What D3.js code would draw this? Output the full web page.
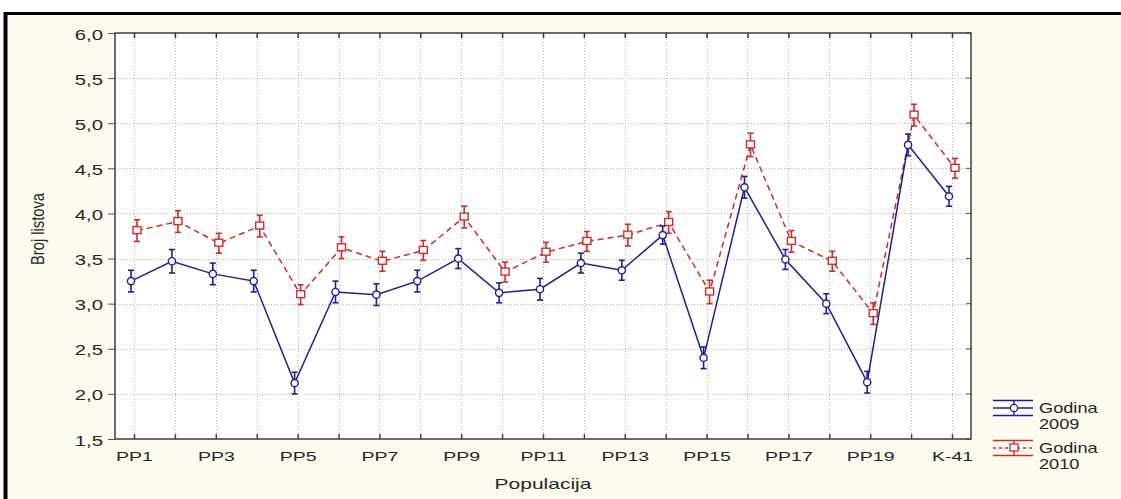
<!DOCTYPE html>
<html>
<head>
<meta charset="utf-8">
<script src="https://cdn.jsdelivr.net/npm/d3@7"></script>
<style>
  html, body { margin: 0; padding: 0; background: #ffffff; }
  svg { display: block; }
  text { font-family: "Liberation Sans", Arial, sans-serif; fill: #262626; }
</style>
</head>
<body>
<svg id="chart" width="1121" height="499"></svg>
<script>
// Populations on the x axis
const categories = ["PP1","PP2","PP3","PP4","PP5","PP6","PP7","PP8","PP9","PP10",
  "PP11","PP12","PP13","PP14","PP15","PP16","PP17","PP18","PP19","PP20","K-41"];
// Only every second population is labelled
const tickLabels = ["PP1","PP3","PP5","PP7","PP9","PP11","PP13","PP15","PP17","PP19","K-41"];
const yTicks = [1.5, 2.0, 2.5, 3.0, 3.5, 4.0, 4.5, 5.0, 5.5, 6.0];

// Mean number of leaves per population, year 2009
const mean2009 = [3.25, 3.47, 3.33, 3.25, 2.12, 3.13, 3.10, 3.25, 3.50, 3.12, 3.16,
  3.45, 3.37, 3.76, 2.40, 4.29, 3.49, 3.00, 2.13, 4.76, 4.19];
const err2009 = [0.12, 0.13, 0.12, 0.12, 0.12, 0.12, 0.12, 0.12, 0.11, 0.11, 0.12,
  0.11, 0.11, 0.10, 0.12, 0.12, 0.11, 0.11, 0.12, 0.12, 0.11];
// Mean number of leaves per population, year 2010
const mean2010 = [3.81, 3.91, 3.67, 3.86, 3.10, 3.62, 3.47, 3.59, 3.96, 3.35, 3.57,
  3.69, 3.76, 3.90, 3.13, 4.76, 3.69, 3.47, 2.89, 5.09, 4.50];
const err2010 = [0.12, 0.12, 0.11, 0.12, 0.11, 0.12, 0.11, 0.11, 0.12, 0.11, 0.11,
  0.11, 0.12, 0.12, 0.13, 0.13, 0.12, 0.11, 0.12, 0.12, 0.11];

const seriesNames = ["Godina", "Godina"];
const seriesYears = ["2009", "2010"];

const svg = d3.select("#chart");
const W = 1121, H = 499;
const plot = { left: 115, right: 971, top: 33, bottom: 439 };
const blue = "#1e1e96", red = "#cc2c2c";
const fmt = d3.formatLocale({ decimal: ",", thousands: ".", grouping: [3], currency: ["", ""] }).format(".1f");

// window background and framed panel
svg.append("rect").attr("width", W).attr("height", H).attr("fill", "#ffffff");
svg.append("rect").attr("x", 5).attr("y", 13).attr("width", W).attr("height", H)
  .attr("fill", "#fdfaf0");
svg.append("line").attr("x1", 5.5).attr("x2", 5.5).attr("y1", 12).attr("y2", H)
  .attr("stroke", "#000").attr("stroke-width", 4);
svg.append("line").attr("x1", 4).attr("x2", W).attr("y1", 13.5).attr("y2", 13.5)
  .attr("stroke", "#000").attr("stroke-width", 3);

const x = d3.scalePoint().domain(categories).range([plot.left, plot.right]).padding(0.465);
const y = d3.scaleLinear().domain([1.5, 6]).range([plot.bottom, plot.top]);

// plot area
svg.append("rect").attr("x", plot.left).attr("y", plot.top)
  .attr("width", plot.right - plot.left).attr("height", plot.bottom - plot.top)
  .attr("fill", "#ffffff");

// dotted grid
const grid = svg.append("g").attr("stroke", "#b4b4b4").attr("stroke-width", 1)
  .attr("stroke-dasharray", "1,2");
grid.selectAll("line.v").data(categories).join("line").attr("class", "v")
  .attr("x1", d => Math.round(x(d)) + 0.5).attr("x2", d => Math.round(x(d)) + 0.5)
  .attr("y1", plot.top).attr("y2", plot.bottom);
grid.selectAll("line.h").data(yTicks.slice(1, -1)).join("line").attr("class", "h")
  .attr("y1", d => Math.round(y(d)) + 0.5).attr("y2", d => Math.round(y(d)) + 0.5)
  .attr("x1", plot.left).attr("x2", plot.right);

// y axis (ticks outside, labels with decimal comma)
const yAxis = svg.append("g").attr("transform", `translate(${plot.left},0)`)
  .call(d3.axisLeft(y).tickValues(yTicks).tickFormat(fmt).tickSize(7).tickPadding(0));
yAxis.select(".domain").remove();
yAxis.selectAll(".tick line").attr("stroke", "#555");
yAxis.selectAll(".tick text")
  .attr("x", null).attr("dy", null)
  .attr("transform", "translate(-12,6) scale(1.45,1)")
  .attr("text-anchor", "end")
  .style("font-size", "14px").style("font-family", "'Liberation Sans', Arial, sans-serif")
  .attr("fill", "#2a2a2a");

// right side inner ticks
svg.append("g").selectAll("line").data(yTicks).join("line")
  .attr("x1", plot.right - 5).attr("x2", plot.right)
  .attr("y1", d => y(d)).attr("y2", d => y(d))
  .attr("stroke", "#555");

// x axis (ticks inside at bottom and top)
const xAxis = svg.append("g").attr("transform", `translate(0,${plot.bottom})`)
  .call(d3.axisBottom(x).tickSize(-5).tickPadding(0)
    .tickFormat(d => tickLabels.includes(d) ? d : ""));
xAxis.select(".domain").remove();
xAxis.selectAll(".tick line").attr("stroke", "#444").attr("stroke-width", 1.5);
xAxis.selectAll(".tick text")
  .attr("y", null).attr("dy", null)
  .attr("transform", "translate(0,22) scale(1.5,1)")
  .attr("text-anchor", "middle")
  .style("font-size", "13px").style("font-family", "'Liberation Sans', Arial, sans-serif")
  .attr("fill", "#2a2a2a");

const xTop = svg.append("g").attr("transform", `translate(0,${plot.top})`)
  .call(d3.axisTop(x).tickSize(-5).tickFormat(""));
xTop.select(".domain").remove();
xTop.selectAll(".tick line").attr("stroke", "#333").attr("stroke-width", 1.5);

// plot border
svg.append("rect").attr("x", plot.left).attr("y", plot.top)
  .attr("width", plot.right - plot.left).attr("height", plot.bottom - plot.top)
  .attr("fill", "none").attr("stroke", "#3c3c3c").attr("stroke-width", 1.5);

// series: line, error bars, markers
function drawSeries(means, errs, color, dash, offset, marker) {
  const g = svg.append("g");
  const pts = categories.map((c, i) => ({ cx: x(c) + offset, m: means[i], e: errs[i] }));
  g.append("path").datum(pts)
    .attr("d", d3.line().x(d => d.cx).y(d => y(d.m)))
    .attr("fill", "none").attr("stroke", color).attr("stroke-width", 1.5)
    .attr("stroke-dasharray", dash);
  const eb = g.selectAll("g.eb").data(pts).join("g").attr("class", "eb")
    .attr("stroke", color).attr("stroke-width", 1.6);
  eb.append("line").attr("x1", d => d.cx).attr("x2", d => d.cx)
    .attr("y1", d => y(d.m + d.e)).attr("y2", d => y(d.m - d.e));
  eb.append("line").attr("x1", d => d.cx - 3).attr("x2", d => d.cx + 3)
    .attr("y1", d => y(d.m + d.e)).attr("y2", d => y(d.m + d.e));
  eb.append("line").attr("x1", d => d.cx - 3).attr("x2", d => d.cx + 3)
    .attr("y1", d => y(d.m - d.e)).attr("y2", d => y(d.m - d.e));
  if (marker === "circle") {
    g.selectAll("circle").data(pts).join("circle")
      .attr("cx", d => d.cx).attr("cy", d => y(d.m)).attr("r", 3.6)
      .attr("fill", "#fff").attr("stroke", color).attr("stroke-width", 1.4);
  } else {
    g.selectAll("rect.mk").data(pts).join("rect").attr("class", "mk")
      .attr("x", d => d.cx - 4).attr("y", d => y(d.m) - 4)
      .attr("width", 8).attr("height", 7)
      .attr("fill", "#fff").attr("stroke", color).attr("stroke-width", 1.4);
  }
}
drawSeries(mean2010, err2010, red, "6,4", 3, "square");
drawSeries(mean2009, err2009, blue, null, -3, "circle");

// axis titles
svg.append("text").attr("transform", "translate(44,229) rotate(-90) scale(0.82,1)")
  .attr("text-anchor", "middle").style("font-size", "18px").text("Broj listova");
svg.append("text").attr("transform", "translate(543,489) scale(1.5,1)")
  .attr("text-anchor", "middle").style("font-size", "14px").text("Populacija");

// legend
const legend = [
  { color: blue, dash: null, marker: "circle", y0: 408 },
  { color: red, dash: "3,3", marker: "square", y0: 448 }
];
legend.forEach((L, i) => {
  const g = svg.append("g").attr("stroke", L.color).attr("stroke-width", 1.3);
  const xl = 993, xr = 1033, xc = 1014;
  g.append("line").attr("x1", xl).attr("x2", xr).attr("y1", L.y0 - 7.5).attr("y2", L.y0 - 7.5);
  g.append("line").attr("x1", xl).attr("x2", xr).attr("y1", L.y0 + 7.5).attr("y2", L.y0 + 7.5);
  g.append("line").attr("x1", xl).attr("x2", xr).attr("y1", L.y0).attr("y2", L.y0)
    .attr("stroke-dasharray", L.dash);
  g.append("line").attr("x1", xc).attr("x2", xc).attr("y1", L.y0 - 7.5).attr("y2", L.y0 + 7.5);
  if (L.marker === "circle") {
    g.append("circle").attr("cx", xc).attr("cy", L.y0).attr("r", 3.6).attr("fill", "#fff");
  } else {
    g.append("rect").attr("x", xc - 4).attr("y", L.y0 - 4).attr("width", 8).attr("height", 7)
      .attr("fill", "#fff");
  }
  svg.append("text").attr("transform", `translate(1039,${L.y0 + 5}) scale(1.3,1)`)
    .style("font-size", "14px").text(seriesNames[i]);
  svg.append("text").attr("transform", `translate(1039,${L.y0 + 21}) scale(1.3,1)`)
    .style("font-size", "14px").text(seriesYears[i]);
});
</script>
</body>
</html>
